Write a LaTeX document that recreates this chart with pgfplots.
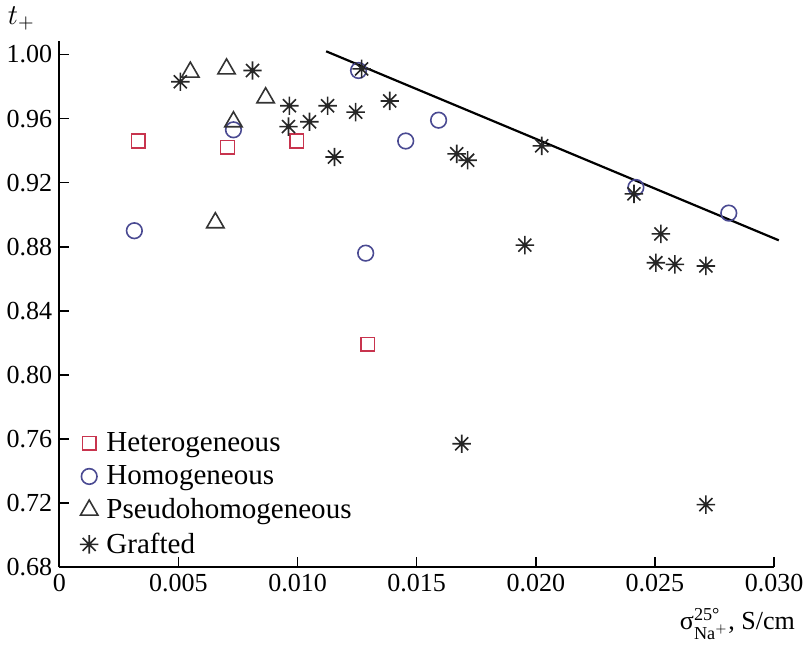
\documentclass[border=0pt]{standalone}
\usepackage{amsmath}
\usepackage{fontspec}
\setmainfont{Liberation Serif}
\usepackage{pgfplots}
\pgfplotsset{compat=1.18}

\definecolor{hetcol}{HTML}{C8344E}
\definecolor{homcol}{HTML}{4A4A92}
\definecolor{psecol}{HTML}{333333}
\definecolor{grfcol}{HTML}{262626}

% eight-arm asterisk as in the source figure
\pgfdeclareplotmark{ast8}{%
  \pgfpathmoveto{\pgfqpoint{-\pgfplotmarksize}{0pt}}\pgfpathlineto{\pgfqpoint{\pgfplotmarksize}{0pt}}%
  \pgfpathmoveto{\pgfqpoint{0pt}{-\pgfplotmarksize}}\pgfpathlineto{\pgfqpoint{0pt}{\pgfplotmarksize}}%
  \pgfpathmoveto{\pgfqpoint{-0.707\pgfplotmarksize}{-0.707\pgfplotmarksize}}\pgfpathlineto{\pgfqpoint{0.707\pgfplotmarksize}{0.707\pgfplotmarksize}}%
  \pgfpathmoveto{\pgfqpoint{-0.707\pgfplotmarksize}{0.707\pgfplotmarksize}}\pgfpathlineto{\pgfqpoint{0.707\pgfplotmarksize}{-0.707\pgfplotmarksize}}%
  \pgfusepathqstroke}

\begin{document}
\begin{tikzpicture}
\begin{axis}[
  width=357pt, height=263pt,
  scale only axis,
  clip=false,
  axis x line*=bottom, axis y line*=left,
  axis line style={-, line width=0.8pt},
  xmin=0, xmax=0.030,
  ymin=0.68, ymax=1.0087,
  xtick={0,0.005,0.010,0.015,0.020,0.025,0.030},
  xticklabels={0,0.005,0.010,0.015,0.020,0.025,0.030},
  ytick={0.68,0.72,0.76,0.80,0.84,0.88,0.92,0.96,1.00},
  yticklabels={0.68,0.72,0.76,0.80,0.84,0.88,0.92,0.96,1.00},
  scaled x ticks=false,
  tick align=inside,
  major tick length=5pt,
  tick style={line width=0.8pt, black},
  ticklabel style={font=\fontsize{13}{15}\selectfont},
  xlabel={σ$^{\text{25°}}_{\text{Na}^{+}}$, S/cm},
  xlabel style={font=\fontsize{13}{15}\selectfont, at={(axis description cs:1,0)}, anchor=north east, xshift=14pt, yshift=-17pt},
  ylabel={$t_{+}$},
  ylabel style={font=\fontsize{14}{16}\selectfont, rotate=-90, at={(axis description cs:0,1)}, anchor=center, xshift=-19pt, yshift=11pt},
  legend style={draw=none, fill=none, at={(axis description cs:0.02,0.005)}, anchor=south west,
    font=\fontsize{14.5}{17}\selectfont, row sep=1.5pt, nodes={inner xsep=4pt}},
  legend cell align=left,
]
\addplot[only marks, mark=square, mark size=3.4pt, color=hetcol, line width=0.8pt]
  coordinates {(0.00332,0.946) (0.00706,0.942) (0.00996,0.946) (0.01294,0.819)};
\addlegendentry{Heterogeneous}
\addplot[only marks, mark=o, mark size=3.9pt, color=homcol, line width=0.8pt]
  coordinates {(0.00315,0.890) (0.00731,0.953) (0.01256,0.990) (0.01286,0.876)
               (0.01454,0.946) (0.01592,0.959) (0.0242,0.917) (0.0281,0.901)};
\addlegendentry{Homogeneous}
\addplot[only marks, mark=triangle, mark size=5pt, color=psecol, line width=0.8pt]
  coordinates {(0.0055,0.989) (0.00702,0.991) (0.00866,0.973) (0.00731,0.958) (0.00655,0.895)};
\addlegendentry{Pseudohomogeneous}
\addplot[only marks, mark=ast8, mark size=4.6pt, color=grfcol, line width=0.8pt]
  coordinates {(0.00508,0.983) (0.00811,0.990) (0.00966,0.968) (0.00962,0.955) (0.0105,0.958)
               (0.01126,0.968) (0.01244,0.964) (0.01269,0.991) (0.01155,0.936) (0.01387,0.971)
               (0.01668,0.938) (0.01714,0.934) (0.02025,0.943) (0.01954,0.881) (0.02412,0.913)
               (0.02525,0.888) (0.02504,0.870) (0.02584,0.869) (0.02714,0.868) (0.01689,0.757)
               (0.02714,0.719)};
\addlegendentry{Grafted}
\addplot[black, line width=1.1pt, no marks, forget plot]
  coordinates {(0.0112,1.002) (0.0302,0.884)};
\end{axis}
\end{tikzpicture}
\end{document}
